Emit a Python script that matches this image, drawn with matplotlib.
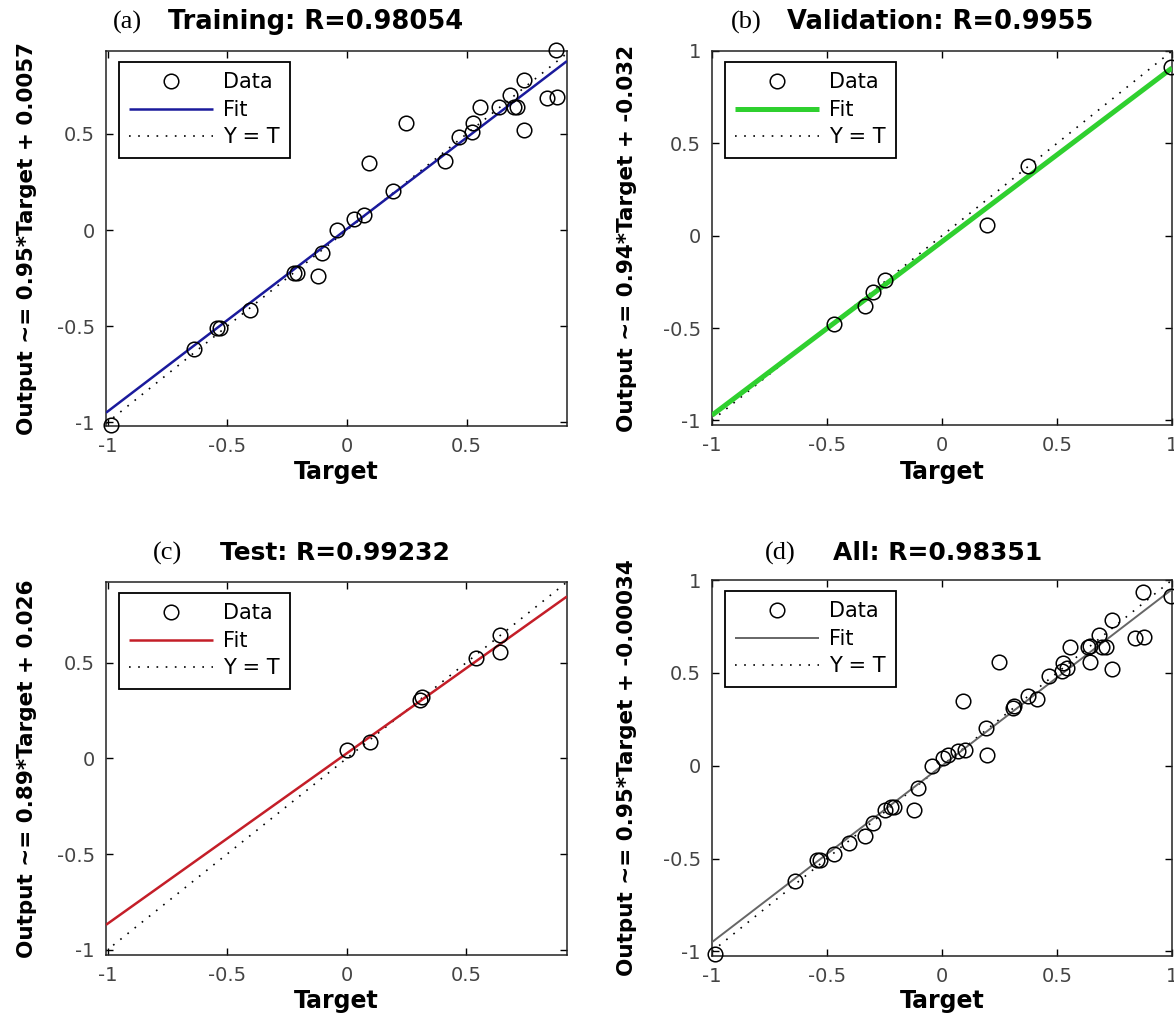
import matplotlib
matplotlib.use("Agg")
import matplotlib.pyplot as plt
import numpy as np
from matplotlib.ticker import FuncFormatter, FixedLocator

# ---------------- data ----------------
train_target = [0.872, 0.739, 0.837, 0.879, 0.558, 0.635, 0.683, 0.697, 0.711, 0.739,
                0.248, 0.527, 0.523, 0.467, 0.091, 0.411, 0.192, 0.028, 0.070, -0.042,
                -0.105, -0.121, -0.223, -0.209, -0.404, -0.544, -0.530, -0.639, -0.987]
train_output = [0.936, 0.783, 0.685, 0.693, 0.641, 0.641, 0.702, 0.641, 0.641, 0.520,
                0.558, 0.555, 0.511, 0.485, 0.350, 0.360, 0.205, 0.055, 0.078, 0.000,
                -0.121, -0.239, -0.222, -0.225, -0.416, -0.508, -0.508, -0.620, -1.014]

val_target = [0.995, 0.374, 0.196, -0.246, -0.300, -0.333, -0.468]
val_output = [0.912, 0.377, 0.058, -0.240, -0.307, -0.381, -0.477]

test_target = [0.642, 0.644, 0.544, 0.307, 0.314, 0.098, 0.003]
test_output = [0.645, 0.557, 0.526, 0.308, 0.322, 0.084, 0.044]

all_target = train_target + val_target + test_target
all_output = train_output + val_output + test_output

fit_slopes = [0.95, 0.94, 0.89, 0.95]
fit_intercepts = [0.0057, -0.032, 0.026, -0.00034]

panel_letters = ["(a)", "(b)", "(c)", "(d)"]
panel_titles = ["Training: R=0.98054", "Validation: R=0.9955",
                "Test: R=0.99232", "All: R=0.98351"]
ylabels = ["Output ~= 0.95*Target + 0.0057", "Output ~= 0.94*Target + -0.032",
           "Output ~= 0.89*Target + 0.026", "Output ~= 0.95*Target + -0.00034"]
xlabel = "Target"
legend_labels = ["Data", "Fit", "Y = T"]
tick_values = [-1, -0.5, 0, 0.5, 1]

# ---------------- layout ----------------
W, H = 1174, 1018
fig = plt.figure(figsize=(W / 100, H / 100), dpi=100)
fig.patch.set_facecolor("white")

def px_axes(l, t, r, b):
    return fig.add_axes([l / W, 1 - b / H, (r - l) / W, (b - t) / H])

boxes = [(106, 51, 567, 426), (712, 51, 1172, 425),
         (106, 582, 567, 955), (712, 580, 1172, 956)]
xlims = [(-1.007, 0.92), (-1.0, 1.0), (-1.007, 0.923), (-1.0, 1.0)]
ylims = [(-1.02, 0.932), (-1.025, 1.0), (-1.028, 0.923), (-1.025, 1.0)]
fit_colors = ["#1a1a9c", "#2fd02f", "#c41e28", "#666666"]
fit_widths = [1.8, 3.6, 1.8, 1.4]
targets = [train_target, val_target, test_target, all_target]
outputs = [train_output, val_output, test_output, all_output]

title_letter_x = [127, 746, 168, 780]
title_text_x = [316, 940, 335, 938]
title_y = [22, 22, 553, 553]
title_sizes = [18.5, 18.5, 18, 18]
ylabel_x = [27, 627, 27, 627]
xlabel_y = [472, 472, 1001, 1001]

fmt = FuncFormatter(lambda v, p: "%g" % v)

for i in range(4):
    l, t, r, b = boxes[i]
    ax = px_axes(l, t, r, b)
    x0, x1 = xlims[i]
    xs = np.array([x0, x1])
    # Y = T
    ax.plot(xs, xs, color="black", lw=1.2, linestyle=(0, (1, 4.5)), label=legend_labels[2], zorder=2)
    # fit
    ax.plot(xs, fit_slopes[i] * xs + fit_intercepts[i], color=fit_colors[i],
            lw=fit_widths[i], solid_capstyle="butt", label=legend_labels[1], zorder=3)
    # data
    ax.plot(targets[i], outputs[i], linestyle="none", marker="o", markersize=10.5,
            markerfacecolor="none", markeredgecolor="black", markeredgewidth=1.1,
            label=legend_labels[0], clip_on=False, zorder=4)
    ax.set_xlim(x0, x1)
    ax.set_ylim(*ylims[i])
    ax.xaxis.set_major_locator(FixedLocator(tick_values))
    ax.yaxis.set_major_locator(FixedLocator(tick_values))
    ax.xaxis.set_major_formatter(fmt)
    ax.yaxis.set_major_formatter(fmt)
    ax.tick_params(direction="in", length=5, width=1, top=True, right=True,
                   labelsize=14, labelcolor="#444444", pad=8)
    for s in ax.spines.values():
        s.set_linewidth(1.1)
        s.set_color("#222222")

    h, lab = ax.get_legend_handles_labels()
    order = [2, 1, 0]
    leg = ax.legend([h[k] for k in order], [lab[k] for k in order],
                    loc="upper left",
                    bbox_to_anchor=(13 / (r - l), 1 - 11 / (b - t)),
                    borderaxespad=0, fontsize=15, handlelength=4.0,
                    handletextpad=0.5, labelspacing=0.36, borderpad=0.5,
                    fancybox=False, framealpha=1, edgecolor="black")
    leg.get_frame().set_linewidth(1.3)

    cy = 1 - ((t + b) / 2) / H
    fig.text(ylabel_x[i] / W, cy, ylabels[i], rotation=90, ha="center", va="center",
             fontsize=15.5, fontweight="bold", family="DejaVu Sans")
    fig.text(((l + r) / 2) / W, 1 - xlabel_y[i] / H, xlabel, ha="center", va="center",
             fontsize=17, fontweight="bold", family="DejaVu Sans")
    fig.text(title_letter_x[i] / W, 1 - title_y[i] / H, panel_letters[i], ha="center",
             va="center", fontsize=19, family=["Liberation Serif", "DejaVu Serif"])
    fig.text(title_text_x[i] / W, 1 - title_y[i] / H, panel_titles[i], ha="center",
             va="center", fontsize=title_sizes[i], fontweight="bold", family="DejaVu Sans")

fig.savefig("out.png", dpi=100, facecolor="white")
